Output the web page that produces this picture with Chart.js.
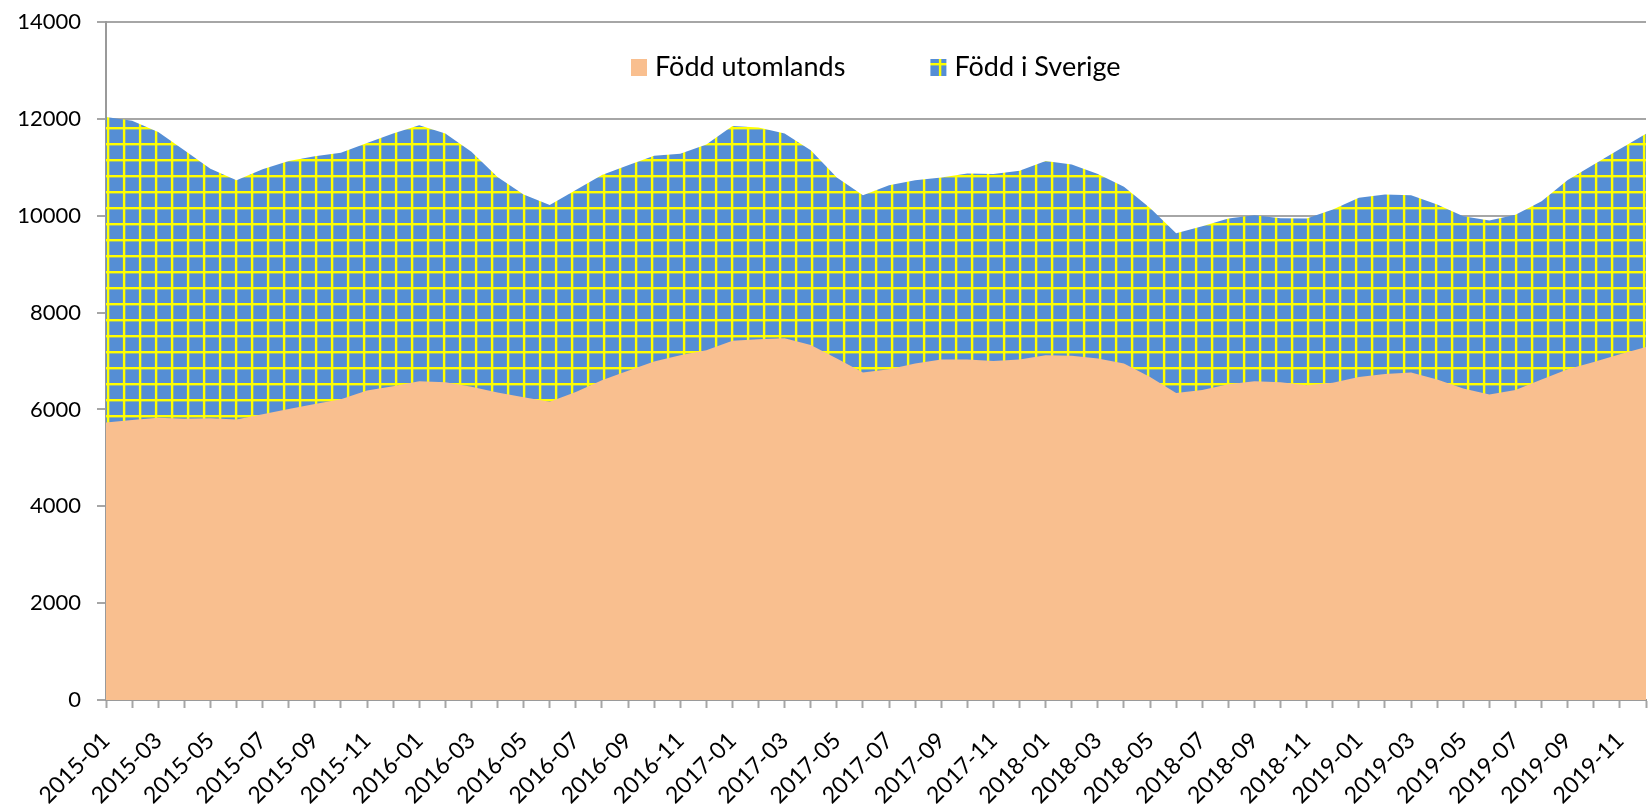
<!DOCTYPE html>
<html>
<head>
<meta charset="utf-8">
<script src="https://cdn.jsdelivr.net/npm/chart.js@4.4.1/dist/chart.umd.min.js"></script>
<style>
html,body{margin:0;padding:0;background:#fff;}
#wrap{position:absolute;left:0;top:0;width:1648px;height:804px;}
</style>
</head>
<body>
<div id="wrap"><canvas id="c" width="1648" height="804"></canvas></div>
<script>
const months = [
  '2015-01','2015-02','2015-03','2015-04','2015-05','2015-06','2015-07','2015-08','2015-09','2015-10','2015-11','2015-12',
  '2016-01','2016-02','2016-03','2016-04','2016-05','2016-06','2016-07','2016-08','2016-09','2016-10','2016-11','2016-12',
  '2017-01','2017-02','2017-03','2017-04','2017-05','2017-06','2017-07','2017-08','2017-09','2017-10','2017-11','2017-12',
  '2018-01','2018-02','2018-03','2018-04','2018-05','2018-06','2018-07','2018-08','2018-09','2018-10','2018-11','2018-12',
  '2019-01','2019-02','2019-03','2019-04','2019-05','2019-06','2019-07','2019-08','2019-09','2019-10','2019-11','2019-12'
];
const seriesNames = ['Född utomlands', 'Född i Sverige'];
const foddUtomlands = [
  5730,5780,5830,5810,5820,5790,5900,6010,6110,6210,6390,6480,
  6580,6560,6470,6350,6250,6160,6360,6600,6800,6990,7120,7220,
  7420,7450,7470,7330,7050,6760,6830,6950,7030,7030,7000,7030,
  7120,7110,7050,6950,6670,6340,6400,6520,6580,6560,6500,6550,
  6670,6730,6760,6620,6430,6310,6400,6620,6830,6980,7140,7290
];
const foddISverige = [
  6310,6180,5900,5540,5150,4940,5060,5120,5120,5090,5110,5220,
  5290,5140,4850,4450,4190,4060,4170,4240,4240,4250,4160,4250,
  4430,4370,4230,4020,3740,3660,3800,3780,3760,3840,3860,3900,
  4010,3950,3810,3650,3490,3300,3380,3420,3430,3390,3440,3580,
  3700,3710,3660,3610,3560,3590,3620,3680,3910,4080,4240,4400
];
const yMin = 0, yMax = 14000, yStep = 2000;

const canvas = document.getElementById('c');
const ctx0 = canvas.getContext('2d');

// blue fill with yellow grid pattern
const tile = document.createElement('canvas');
tile.width = 16; tile.height = 16;
const tg = tile.getContext('2d');
tg.fillStyle = '#558ED5'; tg.fillRect(0, 0, 16, 16);
tg.fillStyle = '#FFFF00';
tg.fillRect(10.9, 0, 2.4, 16);
tg.fillRect(0, 0, 16, 1.4);
tg.fillRect(0, 15, 16, 1);
const bluePattern = ctx0.createPattern(tile, 'repeat');

const ORANGE = '#F9BF8F';
const GRID = '#a6a6a6';
const AXIS = '#9a9a9a';

Chart.defaults.font.family = 'Lato';
Chart.defaults.color = '#000';

const insideLegend = {
  id: 'insideLegend',
  afterDraw(chart) {
    const ctx = chart.ctx;
    const a = chart.chartArea;
    ctx.save();
    ctx.font = '27px Lato';
    ctx.textBaseline = 'middle';
    ctx.textAlign = 'left';
    const box = 16, gap = 8, space = 85;
    const items = chart.data.datasets.map(d => ({
      text: d.label, fill: d.backgroundColor, w: ctx.measureText(d.label).width
    }));
    const total = items.reduce((s, it) => s + box + gap + it.w, 0) + space * (items.length - 1);
    let x = Math.round((a.left + a.right) / 2 - total / 2);
    const cy = a.top + 45;
    items.forEach(it => {
      ctx.fillStyle = it.fill;
      ctx.fillRect(x, Math.round(cy - box / 2), box, box + 1);
      x += box + gap;
      ctx.fillStyle = '#000';
      ctx.fillText(it.text, x, cy);
      x += it.w + space;
    });
    ctx.restore();
  }
};

new Chart(canvas, {
  type: 'line',
  data: {
    labels: months,
    datasets: [
      {
        label: seriesNames[0],
        data: foddUtomlands,
        backgroundColor: ORANGE,
        borderWidth: 0,
        pointRadius: 0,
        fill: 'origin',
        tension: 0
      },
      {
        label: seriesNames[1],
        data: foddISverige,
        backgroundColor: bluePattern,
        borderWidth: 0,
        pointRadius: 0,
        fill: 'origin',
        tension: 0
      }
    ]
  },
  options: {
    responsive: false,
    animation: false,
    events: [],
    layout: { padding: { left: 0, right: 2, top: 22, bottom: 0 } },
    plugins: {
      legend: { display: false },
      tooltip: { enabled: false }
    },
    scales: {
      x: {
        type: 'category',
        offset: false,
        grid: {
          display: true,
          drawOnChartArea: false,
          drawTicks: true,
          tickLength: 8,
          tickColor: GRID,
          tickWidth: 2
        },
        border: { display: true, color: AXIS, width: 2 },
        ticks: {
          autoSkip: false,
          minRotation: 45,
          maxRotation: 45,
          padding: 19,
          font: { size: 23, family: 'Lato' },
          color: '#000',
          callback: function (v, i) { return i % 2 === 0 ? months[i] : ''; }
        },
        afterFit(scale) {
          scale.height = 104;
          scale.paddingLeft = 0;
          scale.paddingRight = 0;
        }
      },
      y: {
        stacked: true,
        min: yMin,
        max: yMax,
        grid: {
          color: GRID,
          lineWidth: 2,
          drawTicks: true,
          tickLength: 9,
          tickColor: GRID,
          tickWidth: 2
        },
        border: { display: true, color: AXIS, width: 2 },
        ticks: {
          stepSize: yStep,
          padding: 16,
          font: { size: 22, family: 'Lato' },
          color: '#000',
          callback: function (v) { return String(v); }
        },
        afterFit(scale) {
          scale.width = 106;
          scale.paddingTop = 0;
          scale.paddingBottom = 0;
        }
      }
    }
  },
  plugins: [insideLegend]
});
</script>
</body>
</html>
